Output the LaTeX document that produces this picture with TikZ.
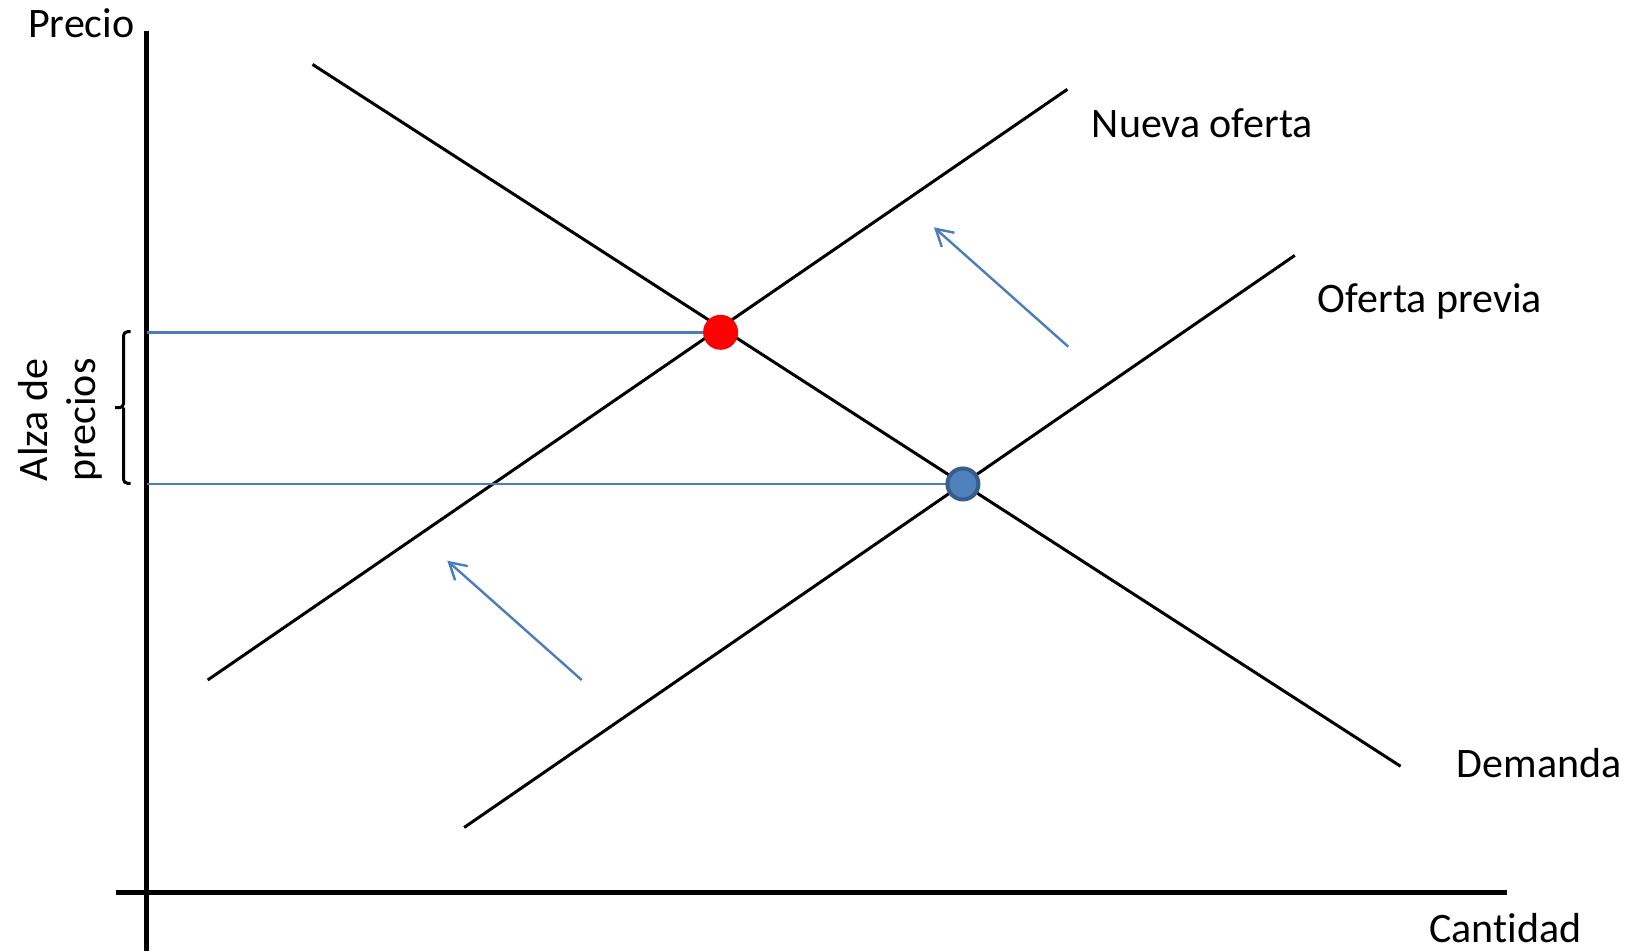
\documentclass[tikz,border=0pt]{standalone}
\usepackage{fontspec}
\setmainfont{Carlito}[Ligatures=NoCommon]
\usetikzlibrary{arrows.meta}
\definecolor{ofblue}{HTML}{4A7EBB}
\definecolor{dotblue}{HTML}{4F81BD}
\definecolor{dotedge}{HTML}{385D8A}
\definecolor{dotred}{HTML}{FF0000}

\begin{document}
\begin{tikzpicture}[
  x=1pt, y=-1pt,
  font=\fontsize{42}{46}\selectfont,
  axis/.style={line width=4.7pt, black},
  curve/.style={line width=3pt, black},
  guide/.style={line width=2.4pt, ofblue},
  movearrow/.style={line width=2.4pt, ofblue, -{Straight Barb[angle=60:19pt]}},
  lbl/.style={inner sep=0pt, anchor=base west},
  eq/.style={circle, inner sep=0pt, minimum size=35pt},
]
\useasboundingbox (0,0) rectangle (1628,951);

% ================= AXES =================
\coordinate (ytop) at (146.7,31);
\coordinate (ybot) at (146.7,951);
\coordinate (xl) at (116,892.3);
\coordinate (xr) at (1507,892.3);
\draw[axis] (ytop) -- (ybot);
\draw[axis] (xl) -- (xr);
\node[lbl] (precio) at (28,37) {Precio};
\node[lbl] (cantidad) at (1429,942.7) {Cantidad};

% ================= CURVES =================
\coordinate (d1) at (312.5,64.4);
\coordinate (d2) at (1400.6,766.3);
\coordinate (n1) at (207.7,680);
\coordinate (n2) at (1067.4,89.3);
\coordinate (p1) at (464.1,827.5);
\coordinate (p2) at (1294.8,255.4);
\draw[curve] (d1) -- (d2);
\draw[curve] (n1) -- (n2);
\draw[curve] (p1) -- (p2);
\node[lbl] (nueva) at (1091.7,137.7) {Nueva oferta};
\node[lbl] (previa) at (1317.7,312.7) {Oferta previa};
\node[lbl] (demanda) at (1456.7,777.3) {Demanda};

% ================= EQUILIBRIA =================
\coordinate (eqnew) at (720.6,332.3);
\coordinate (eqold) at (intersection of d1--d2 and p1--p2);
\coordinate (ynew) at (ytop |- eqnew);
\coordinate (yold) at (ytop |- eqold);
\draw[guide] (ynew) -- (eqnew);
\draw[guide] (yold) -- (eqold);
\node[eq, fill=dotred] (enew) at (eqnew) {};
\node[eq, fill=dotblue, draw=dotedge, line width=4pt, minimum size=31pt] (eold) at (eqold) {};

% ================= SHIFT ARROWS =================
\coordinate (s1a) at (581.7,680);
\coordinate (s1b) at (447.3,560.7);
\coordinate (s2a) at (1068.3,346.7);
\coordinate (s2b) at (934,227.3);
\draw[movearrow] (s1a) -- (s1b);
\draw[movearrow] (s2a) -- (s2b);

% ================= PRICE RISE BRACE =================
\draw[line width=3pt, rounded corners=4pt]
  (130.7,331.7) -- (123.5,331.7) -- (123.5,407.7) -- (115,407.7)
  (123.5,407.7) -- (123.5,483.3) -- (130.7,483.3);
\node[rotate=90, align=center, inner sep=0pt, font=\fontsize{42}{48}\selectfont]
  (alza) at (60,420) {Alza de\\precios};
\end{tikzpicture}
\end{document}
